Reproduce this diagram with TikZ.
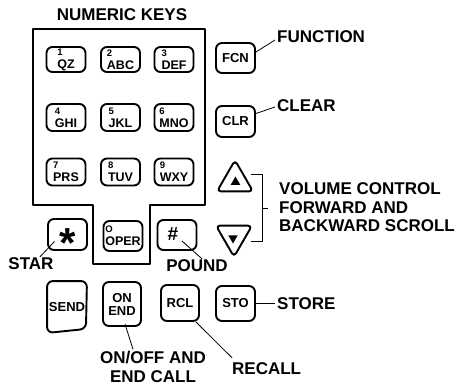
\documentclass[tikz,border=0pt]{standalone}
\usepackage{fontspec}
\setmainfont{Liberation Sans}
\usetikzlibrary{calc,shapes.geometric}
\newcommand\keydigit[1]{{\fontsize{9.5}{9.5}\selectfont #1}}

\begin{document}
\begin{tikzpicture}[x=1pt, y=-1pt, line join=round,
  key/.style={draw, line width=1.9pt, rounded corners=6pt, minimum width=39pt,
    minimum height=27pt, inner sep=0pt, align=center,
    font=\bfseries\fontsize{13}{12}\selectfont},
  digitkey/.style={key, align=left, font=\bfseries\fontsize{12.5}{12}\selectfont},
  tag/.style={inner sep=2pt, font=\bfseries\fontsize{17}{18.5}\selectfont},
  lead/.style={line width=0.8pt},
  arrowkey/.style={draw, line width=1.9pt, regular polygon, regular polygon sides=3,
    minimum size=41.6pt, inner sep=0pt, rounded corners=4pt},
  arrowmark/.style={fill, regular polygon, regular polygon sides=3,
    minimum size=11pt, inner sep=0pt}]
  \useasboundingbox (0,0) rectangle (464,386);

  % numeric keypad frame
  \draw[line width=1.4pt] (33,29) -- (205,29) -- (205,205) -- (150,205) -- (150,264)
    -- (93,264) -- (93,205) -- (33,205) -- cycle;
  \node[tag] (numlbl) at (122,15) {NUMERIC KEYS};

  \node[digitkey, minimum height=25pt] (k1) at (66,59.5)  {\keydigit{1}\\[1pt]QZ};
  \node[digitkey, minimum height=25pt] (k2) at (120.5,59.5) {\keydigit{2}\\[1pt]ABC};
  \node[digitkey, minimum height=25pt] (k3) at (174,59.5) {\keydigit{3}\\[1pt]DEF};
  \node[digitkey] (k4) at (66,117.5)  {\keydigit{4}\\[1pt]GHI};
  \node[digitkey] (k5) at (120.5,117.5) {\keydigit{5}\\[1pt]JKL};
  \node[digitkey] (k6) at (174,117.5) {\keydigit{6}\\[1pt]MNO};
  \node[digitkey] (k7) at (66,172)  {\keydigit{7}\\[1pt]PRS};
  \node[digitkey] (k8) at (120.5,172) {\keydigit{8}\\[1pt]TUV};
  \node[digitkey] (k9) at (174,172) {\keydigit{9}\\[1pt]WXY};

  \node[key, minimum height=31pt, font=\bfseries\fontsize{42}{42}\selectfont]
    (star) at (67.5,234.5) {\raisebox{-18pt}[10pt][0pt]{*}};
  \node[digitkey, minimum height=30pt] (k0) at (123,236) {\keydigit{O}\\[1pt]OPER};
  \node[key, minimum height=30pt, font=\bfseries\fontsize{19}{19}\selectfont]
    (pound) at (177,235) {\hspace*{-8pt}\raisebox{2pt}{\#}};

  % function keys
  \node[key, minimum height=30pt] (fcn) at (235.5,58) {FCN};
  \node[key, minimum height=31pt] (clr) at (235.5,121.5) {CLR};
  \node[arrowkey] (up) at (235,181) {};
  \node[arrowmark] (upmark) at (235.5,182) {};
  \node[arrowkey, shape border rotate=180] (down) at (234,236) {};
  \node[arrowmark, shape border rotate=180] (downmark) at (233,238) {};

  % bottom row
  \node[key, draw=none, minimum width=38pt, minimum height=50pt] (send) at (67,307) {SEND};
  \draw[line width=1.9pt, rounded corners=6pt] (send.north west) -- (send.north east)
    -- ($(send.south east)+(-1,-4)$) -- (send.south west) -- cycle;
  \node[key, minimum width=38pt, minimum height=44pt] (onend) at (122,304) {ON\\[1pt]END};
  \node[key, minimum width=38pt, minimum height=36pt] (rcl) at (180,303) {RCL};
  \node[key, minimum height=35pt] (sto) at (235.5,303.5) {STO};

  % labels
  \node[tag, anchor=west] (function) at (275,37) {FUNCTION};
  \node[tag, anchor=west] (clear) at (275,106) {CLEAR};
  \node[tag, anchor=west, align=left] (volume) at (277,207.5)
    {VOLUME CONTROL\\FORWARD AND\\BACKWARD SCROLL};
  \node[tag] (starlbl) at (31,264) {STAR};
  \node[tag] (poundlbl) at (197,266) {POUND};
  \node[tag, anchor=west] (store) at (275,304) {STORE};
  \node[tag, align=center] (onoff) at (153,367) {ON/OFF AND\\END CALL};
  \node[tag, anchor=west] (recall) at (230,369) {RECALL};

  % leaders
  \draw[lead] ($(fcn.east)+(0,-6)$) -- ($(function.west)+(0,3)$);
  \draw[lead] ($(clr.east)+(0,-8)$) -- ($(clear.west)+(0,1)$);
  \draw[lead] ($(star.center)+(-13,7)$) -- ($(starlbl.north)+(9,1)$);
  \draw[lead] ($(pound.center)+(5,6)$) -- ($(poundlbl.north)+(5,1)$);
  \draw[lead] ($(onend.south)+(3,-3)$) -- ($(onoff.north)+(-20,0)$);
  \draw[lead] ($(rcl.south east)+(-4,0)$) -- ($(recall.north west)+(2,-3)$);
  \draw[lead] (sto.east) -- (sto.east -| store.west);

  % volume bracket
  \coordinate (bra) at (251,174);
  \coordinate (brb) at (262,174);
  \coordinate (brc) at (262,241);
  \coordinate (brd) at (251,241);
  \coordinate (brm) at (262,208);
  \draw[lead] (bra) -- (brb) -- (brc) -- (brd);
  \draw[lead] (brm) -- ++(6,0);
\end{tikzpicture}
\end{document}
